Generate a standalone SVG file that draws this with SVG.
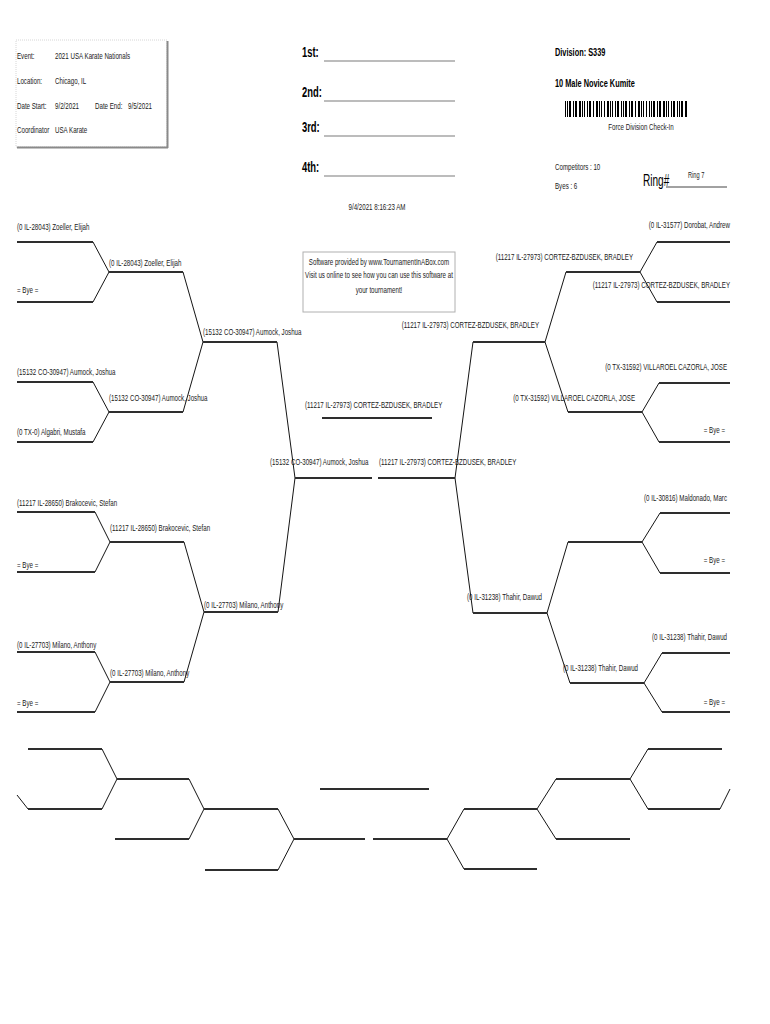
<svg xmlns="http://www.w3.org/2000/svg" width="770" height="1024" viewBox="0 0 770 1024">
<style>
.t{font-family:"Liberation Sans",Arial,sans-serif;font-size:9.8px;fill:#1a1a1a}
.r{text-anchor:end}
.m{text-anchor:middle}
.b{font-weight:bold;font-size:11.7px;fill:#000}
.big{font-weight:bold;font-size:14.9px;fill:#000}
.ln{stroke:#2e2e2e;stroke-width:2.2;fill:none}
.dg{stroke:#151515;stroke-width:1;fill:none}
.pl{stroke:#7a7a7a;stroke-width:1.2}
</style>
<rect width="770" height="1024" fill="#fff"/>

<g id="header-info">
<rect x="16" y="40" width="151" height="107" fill="#fff" stroke="#d6d6d6" stroke-width="1" stroke-dasharray="1 1"/>
<path d="M167.5,41V148M17,147.5H168" stroke="#8a8a8a" stroke-width="2" fill="none"/>
<text class="t" transform="translate(17,59) scale(.63,1)">Event:</text>
<text class="t" transform="translate(55,59) scale(.63,1)">2021 USA Karate Nationals</text>
<text class="t" transform="translate(17,84) scale(.63,1)">Location:</text>
<text class="t" transform="translate(55,84) scale(.63,1)">Chicago, IL</text>
<text class="t" transform="translate(17,109) scale(.63,1)">Date Start:</text>
<text class="t" transform="translate(55,109) scale(.63,1)">9/2/2021</text>
<text class="t" transform="translate(95,109) scale(.63,1)">Date End:</text>
<text class="t" transform="translate(128,109) scale(.63,1)">9/5/2021</text>
<text class="t" transform="translate(17,133) scale(.63,1)">Coordinator</text>
<text class="t" transform="translate(55,133) scale(.63,1)">USA Karate</text>
</g>

<g id="places">
<text class="t big" transform="translate(302,57) scale(.63,1)">1st:</text>
<line class="pl" x1="324" y1="61" x2="455" y2="61"/>
<text class="t big" transform="translate(302,97) scale(.63,1)">2nd:</text>
<line class="pl" x1="324" y1="101" x2="455" y2="101"/>
<text class="t big" transform="translate(302,132) scale(.63,1)">3rd:</text>
<line class="pl" x1="324" y1="136" x2="455" y2="136"/>
<text class="t big" transform="translate(302,172) scale(.63,1)">4th:</text>
<line class="pl" x1="324" y1="176" x2="455" y2="176"/>
<text class="t m" transform="translate(377,210) scale(.63,1)">9/4/2021 8:16:23 AM</text>
</g>

<g id="division">
<text class="t b" transform="translate(555,56) scale(.63,1)">Division: S339</text>
<text class="t b" transform="translate(555,87) scale(.63,1)">10 Male Novice Kumite</text>
<g fill="#000">
<rect x="565" y="101" width="1" height="16"/><rect x="567" y="101" width="1" height="16"/><rect x="569" y="101" width="2" height="16"/><rect x="573" y="101" width="1" height="16"/><rect x="575" y="101" width="2" height="16"/>
<rect x="579" y="101" width="2" height="16"/><rect x="582" y="101" width="1" height="16"/><rect x="584" y="101" width="1" height="16"/><rect x="587" y="101" width="1" height="16"/><rect x="589" y="101" width="2" height="16"/>
<rect x="593" y="101" width="1" height="16"/><rect x="596" y="101" width="2" height="16"/><rect x="599" y="101" width="1" height="16"/><rect x="601" y="101" width="1" height="16"/><rect x="604" y="101" width="1" height="16"/>
<rect x="607" y="101" width="2" height="16"/><rect x="610" y="101" width="1" height="16"/><rect x="612" y="101" width="1" height="16"/><rect x="615" y="101" width="1" height="16"/><rect x="617" y="101" width="2" height="16"/>
<rect x="621" y="101" width="1" height="16"/><rect x="623" y="101" width="1" height="16"/><rect x="625" y="101" width="2" height="16"/><rect x="629" y="101" width="1" height="16"/><rect x="631" y="101" width="2" height="16"/>
<rect x="635" y="101" width="1" height="16"/><rect x="638" y="101" width="2" height="16"/><rect x="641" y="101" width="1" height="16"/><rect x="643" y="101" width="1" height="16"/><rect x="646" y="101" width="1" height="16"/>
<rect x="649" y="101" width="1" height="16"/><rect x="651" y="101" width="1" height="16"/><rect x="653" y="101" width="2" height="16"/><rect x="657" y="101" width="1" height="16"/><rect x="659" y="101" width="2" height="16"/>
<rect x="663" y="101" width="2" height="16"/><rect x="666" y="101" width="1" height="16"/><rect x="668" y="101" width="1" height="16"/><rect x="671" y="101" width="1" height="16"/><rect x="673" y="101" width="2" height="16"/>
<rect x="677" y="101" width="1" height="16"/><rect x="679" y="101" width="1" height="16"/><rect x="681" y="101" width="2" height="16"/><rect x="685" y="101" width="2" height="16"/>
</g>
<text class="t m" transform="translate(641,130) scale(.63,1)">Force Division Check-In</text>
<text class="t" transform="translate(555,170) scale(.63,1)">Competitors : 10</text>
<text class="t" transform="translate(555,189) scale(.63,1)">Byes : 6</text>
<text class="t" style="font-size:16px;fill:#000" transform="translate(643,186) scale(.63,1)">Ring#</text>
<line x1="666" y1="187" x2="727" y2="187" stroke="#444" stroke-width="1"/>
<text class="t" style="font-size:9px" transform="translate(688,178) scale(.63,1)">Ring 7</text>
</g>

<g id="software-note">
<rect x="303" y="252" width="152" height="60" fill="none" stroke="#b0b0b0" stroke-width="1"/>
<text class="t m" transform="translate(379,265) scale(.63,1)">Software provided by www.TournamentInABox.com</text>
<text class="t m" transform="translate(379,278) scale(.63,1)">Visit us online to see how you can use this software at</text>
<text class="t m" transform="translate(379,293) scale(.63,1)">your tournament!</text>
</g>

<g id="connectors">
<path class="dg" d="M93,242L109,272L93,302M93,382L109,412L93,442M95,512L110,542L95,572M95,652L110,682L95,712"/>
<path class="dg" d="M183,272L203,342L183,412M184,542L204,612L184,682M277,342L295,478L278,612"/>
<path class="dg" d="M657,242L640,272L657,302M659,383L642,412L659,442M660,513L642,542L660,573M662,653L644,683L662,712"/>
<path class="dg" d="M566,272L545,342L568,412M568,542L547,613L570,683M473,342L455,478L473,613"/>
<path class="dg" d="M17,795L28,809M102,749L117,779L102,809M189,779L204,809L189,839M278,809L294,839L278,870"/>
<path class="dg" d="M464,809L447,839L464,869M556,779L537,809L556,839M648,749L630,779L648,809M720,809L730,789"/>
</g>

<g id="L1a"><path class="ln" d="M17,242H93"/><text class="t" transform="translate(17,230) scale(.63,1)">(0 IL-28043) Zoeller, Elijah</text></g>
<g id="L1b"><path class="ln" d="M17,302H93"/><text class="t" transform="translate(17,293) scale(.63,1)">= Bye =</text></g>
<g id="L1c"><path class="ln" d="M17,382H93"/><text class="t" transform="translate(17,375) scale(.63,1)">(15132 CO-30947) Aumock, Joshua</text></g>
<g id="L1d"><path class="ln" d="M17,442H93"/><text class="t" transform="translate(17,435) scale(.63,1)">(0 TX-0) Algabri, Mustafa</text></g>
<g id="L1e"><path class="ln" d="M17,512H95"/><text class="t" transform="translate(17,506) scale(.63,1)">(11217 IL-28650) Brakocevic, Stefan</text></g>
<g id="L1f"><path class="ln" d="M17,572H95"/><text class="t" transform="translate(17,568) scale(.63,1)">= Bye =</text></g>
<g id="L1g"><path class="ln" d="M17,652H95"/><text class="t" transform="translate(17,648) scale(.63,1)">(0 IL-27703) Milano, Anthony</text></g>
<g id="L1h"><path class="ln" d="M17,712H95"/><text class="t" transform="translate(17,706) scale(.63,1)">= Bye =</text></g>
<g id="L2a"><path class="ln" d="M109,272H183"/><text class="t" transform="translate(109,266) scale(.63,1)">(0 IL-28043) Zoeller, Elijah</text></g>
<g id="L2b"><path class="ln" d="M109,412H183"/><text class="t" transform="translate(109,401) scale(.63,1)">(15132 CO-30947) Aumock, Joshua</text></g>
<g id="L2c"><path class="ln" d="M110,542H184"/><text class="t" transform="translate(110,531) scale(.63,1)">(11217 IL-28650) Brakocevic, Stefan</text></g>
<g id="L2d"><path class="ln" d="M110,682H184"/><text class="t" transform="translate(110,676) scale(.63,1)">(0 IL-27703) Milano, Anthony</text></g>
<g id="L3a"><path class="ln" d="M203,342H277"/><text class="t" transform="translate(203,335) scale(.63,1)">(15132 CO-30947) Aumock, Joshua</text></g>
<g id="L3b"><path class="ln" d="M204,612H278"/><text class="t" transform="translate(204,608) scale(.63,1)">(0 IL-27703) Milano, Anthony</text></g>
<g id="L4"><path class="ln" d="M295,478H372"/><text class="t" transform="translate(270,465) scale(.63,1)">(15132 CO-30947) Aumock, Joshua</text></g>

<g id="R1a"><path class="ln" d="M657,242H730"/><text class="t r" transform="translate(730,228) scale(.63,1)">(0 IL-31577) Dorobat, Andrew</text></g>
<g id="R1b"><path class="ln" d="M657,302H730"/><text class="t r" transform="translate(730,288) scale(.63,1)">(11217 IL-27973) CORTEZ-BZDUSEK, BRADLEY</text></g>
<g id="R1c"><path class="ln" d="M659,383H730"/><text class="t r" transform="translate(727,370) scale(.63,1)">(0 TX-31592) VILLAROEL CAZORLA, JOSE</text></g>
<g id="R1d"><path class="ln" d="M659,442H730"/><text class="t r" transform="translate(725,433) scale(.63,1)">= Bye =</text></g>
<g id="R1e"><path class="ln" d="M660,513H730"/><text class="t r" transform="translate(727,501) scale(.63,1)">(0 IL-30816) Maldonado, Marc</text></g>
<g id="R1f"><path class="ln" d="M660,573H730"/><text class="t r" transform="translate(725,563) scale(.63,1)">= Bye =</text></g>
<g id="R1g"><path class="ln" d="M662,653H730"/><text class="t r" transform="translate(727,640) scale(.63,1)">(0 IL-31238) Thahir, Dawud</text></g>
<g id="R1h"><path class="ln" d="M662,712H730"/><text class="t r" transform="translate(725,705) scale(.63,1)">= Bye =</text></g>
<g id="R2a"><path class="ln" d="M566,272H640"/><text class="t r" transform="translate(633,260) scale(.63,1)">(11217 IL-27973) CORTEZ-BZDUSEK, BRADLEY</text></g>
<g id="R2b"><path class="ln" d="M568,412H642"/><text class="t r" transform="translate(635,401) scale(.63,1)">(0 TX-31592) VILLAROEL CAZORLA, JOSE</text></g>
<g id="R2c"><path class="ln" d="M568,542H642"/></g>
<g id="R2d"><path class="ln" d="M570,683H644"/><text class="t r" transform="translate(638,671) scale(.63,1)">(0 IL-31238) Thahir, Dawud</text></g>
<g id="R3a"><path class="ln" d="M473,342H545"/><text class="t r" transform="translate(539,328) scale(.63,1)">(11217 IL-27973) CORTEZ-BZDUSEK, BRADLEY</text></g>
<g id="R3b"><path class="ln" d="M473,613H547"/><text class="t r" transform="translate(542,600) scale(.63,1)">(0 IL-31238) Thahir, Dawud</text></g>
<g id="R4"><path class="ln" d="M378,478H455"/><text class="t" transform="translate(379,465) scale(.63,1)">(11217 IL-27973) CORTEZ-BZDUSEK, BRADLEY</text></g>

<g id="champion"><path class="ln" d="M322,418H432"/><text class="t" transform="translate(305,408) scale(.63,1)">(11217 IL-27973) CORTEZ-BZDUSEK, BRADLEY</text></g>

<g id="B1"><path class="ln" d="M28,749H102"/></g>
<g id="B2"><path class="ln" d="M28,809H102"/></g>
<g id="B3"><path class="ln" d="M117,779H189"/></g>
<g id="B4"><path class="ln" d="M204,809H278"/></g>
<g id="B5"><path class="ln" d="M115,839H189"/></g>
<g id="B6"><path class="ln" d="M294,839H365"/></g>
<g id="B7"><path class="ln" d="M205,870H278"/></g>
<g id="B8"><path class="ln" d="M320,789H429"/></g>
<g id="B9"><path class="ln" d="M373,839H447"/></g>
<g id="B10"><path class="ln" d="M464,809H537"/></g>
<g id="B11"><path class="ln" d="M464,869H537"/></g>
<g id="B12"><path class="ln" d="M556,779H630"/></g>
<g id="B13"><path class="ln" d="M556,839H630"/></g>
<g id="B14"><path class="ln" d="M648,749H722"/></g>
<g id="B15"><path class="ln" d="M648,809H720"/></g>
</svg>
